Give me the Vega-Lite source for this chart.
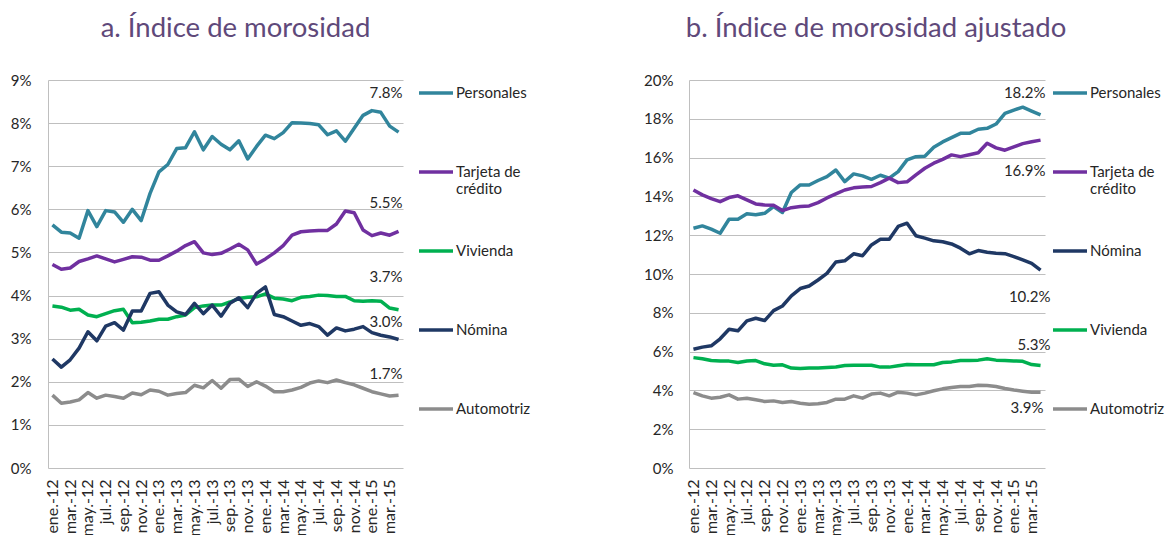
{
  "$schema": "https://vega.github.io/schema/vega-lite/v6.json",
  "background": "white",
  "padding": {"left": 10, "top": 14, "right": 0, "bottom": 0},
  "spacing": 112,
  "config": {
    "font": "Lato",
    "view": {"stroke": null},
    "title": {"fontSize": 27.5, "fontWeight": "normal", "color": "#5F497A", "offset": 31, "anchor": "middle", "frame": "group", "baseline": "top"},
    "axis": {"labelFontSize": 15, "labelColor": "#262626", "domainColor": "#BFBFBF", "gridColor": "#BFBFBF", "ticks": false, "tickSize": 0, "title": null},
    "legend": {"labelFontSize": 15, "labelColor": "#262626", "symbolType": "stroke", "symbolStrokeWidth": 3.5, "symbolSize": 1156, "labelOffset": 1, "rowPadding": 35, "gridAlign": "all", "title": null, "padding": 0},
    "text": {"fontSize": 15, "color": "#262626", "align": "right"}
  },
  "datasets": {
    "a": [
      {"m":"ene.-12","Personales":0.0564,"Tarjeta de crédito":0.0472,"Vivienda":0.0376,"Nómina":0.0253,"Automotriz":0.0169},
      {"m":"feb.-12","Personales":0.0547,"Tarjeta de crédito":0.0461,"Vivienda":0.0373,"Nómina":0.0234,"Automotriz":0.0150},
      {"m":"mar.-12","Personales":0.0545,"Tarjeta de crédito":0.0464,"Vivienda":0.0366,"Nómina":0.0251,"Automotriz":0.0153},
      {"m":"abr.-12","Personales":0.0533,"Tarjeta de crédito":0.0479,"Vivienda":0.0368,"Nómina":0.0278,"Automotriz":0.0158},
      {"m":"may.-12","Personales":0.0597,"Tarjeta de crédito":0.0485,"Vivienda":0.0355,"Nómina":0.0316,"Automotriz":0.0175},
      {"m":"jun.-12","Personales":0.0560,"Tarjeta de crédito":0.0492,"Vivienda":0.0351,"Nómina":0.0295,"Automotriz":0.0162},
      {"m":"jul.-12","Personales":0.0597,"Tarjeta de crédito":0.0485,"Vivienda":0.0358,"Nómina":0.0329,"Automotriz":0.0169},
      {"m":"ago.-12","Personales":0.0594,"Tarjeta de crédito":0.0478,"Vivienda":0.0365,"Nómina":0.0337,"Automotriz":0.0166},
      {"m":"sep.-12","Personales":0.0570,"Tarjeta de crédito":0.0484,"Vivienda":0.0368,"Nómina":0.0320,"Automotriz":0.0162},
      {"m":"oct.-12","Personales":0.0600,"Tarjeta de crédito":0.0490,"Vivienda":0.0337,"Nómina":0.0364,"Automotriz":0.0174},
      {"m":"nov.-12","Personales":0.0574,"Tarjeta de crédito":0.0489,"Vivienda":0.0338,"Nómina":0.0364,"Automotriz":0.0170},
      {"m":"dic.-12","Personales":0.0637,"Tarjeta de crédito":0.0482,"Vivienda":0.0341,"Nómina":0.0405,"Automotriz":0.0181},
      {"m":"ene.-13","Personales":0.0687,"Tarjeta de crédito":0.0482,"Vivienda":0.0345,"Nómina":0.0409,"Automotriz":0.0178},
      {"m":"feb.-13","Personales":0.0704,"Tarjeta de crédito":0.0492,"Vivienda":0.0345,"Nómina":0.0378,"Automotriz":0.0169},
      {"m":"mar.-13","Personales":0.0741,"Tarjeta de crédito":0.0503,"Vivienda":0.0351,"Nómina":0.0362,"Automotriz":0.0173},
      {"m":"abr.-13","Personales":0.0743,"Tarjeta de crédito":0.0516,"Vivienda":0.0355,"Nómina":0.0356,"Automotriz":0.0175},
      {"m":"may.-13","Personales":0.0780,"Tarjeta de crédito":0.0525,"Vivienda":0.0372,"Nómina":0.0382,"Automotriz":0.0192},
      {"m":"jun.-13","Personales":0.0738,"Tarjeta de crédito":0.0499,"Vivienda":0.0376,"Nómina":0.0358,"Automotriz":0.0186},
      {"m":"jul.-13","Personales":0.0769,"Tarjeta de crédito":0.0495,"Vivienda":0.0378,"Nómina":0.0378,"Automotriz":0.0203},
      {"m":"ago.-13","Personales":0.0751,"Tarjeta de crédito":0.0498,"Vivienda":0.0378,"Nómina":0.0352,"Automotriz":0.0185},
      {"m":"sep.-13","Personales":0.0738,"Tarjeta de crédito":0.0508,"Vivienda":0.0385,"Nómina":0.0382,"Automotriz":0.0205},
      {"m":"oct.-13","Personales":0.0759,"Tarjeta de crédito":0.0519,"Vivienda":0.0393,"Nómina":0.0395,"Automotriz":0.0206},
      {"m":"nov.-13","Personales":0.0717,"Tarjeta de crédito":0.0506,"Vivienda":0.0396,"Nómina":0.0372,"Automotriz":0.0189},
      {"m":"dic.-13","Personales":0.0746,"Tarjeta de crédito":0.0473,"Vivienda":0.0397,"Nómina":0.0405,"Automotriz":0.0200},
      {"m":"ene.-14","Personales":0.0772,"Tarjeta de crédito":0.0485,"Vivienda":0.0404,"Nómina":0.0420,"Automotriz":0.0190},
      {"m":"feb.-14","Personales":0.0764,"Tarjeta de crédito":0.0499,"Vivienda":0.0394,"Nómina":0.0356,"Automotriz":0.0177},
      {"m":"mar.-14","Personales":0.0778,"Tarjeta de crédito":0.0516,"Vivienda":0.0392,"Nómina":0.0351,"Automotriz":0.0177},
      {"m":"abr.-14","Personales":0.0801,"Tarjeta de crédito":0.0540,"Vivienda":0.0388,"Nómina":0.0341,"Automotriz":0.0181},
      {"m":"may.-14","Personales":0.0800,"Tarjeta de crédito":0.0548,"Vivienda":0.0396,"Nómina":0.0331,"Automotriz":0.0187},
      {"m":"jun.-14","Personales":0.0799,"Tarjeta de crédito":0.0550,"Vivienda":0.0398,"Nómina":0.0335,"Automotriz":0.0197},
      {"m":"jul.-14","Personales":0.0796,"Tarjeta de crédito":0.0551,"Vivienda":0.0401,"Nómina":0.0328,"Automotriz":0.0202},
      {"m":"ago.-14","Personales":0.0773,"Tarjeta de crédito":0.0551,"Vivienda":0.0400,"Nómina":0.0308,"Automotriz":0.0198},
      {"m":"sep.-14","Personales":0.0782,"Tarjeta de crédito":0.0566,"Vivienda":0.0398,"Nómina":0.0325,"Automotriz":0.0204},
      {"m":"oct.-14","Personales":0.0758,"Tarjeta de crédito":0.0596,"Vivienda":0.0398,"Nómina":0.0318,"Automotriz":0.0198},
      {"m":"nov.-14","Personales":0.0788,"Tarjeta de crédito":0.0592,"Vivienda":0.0388,"Nómina":0.0322,"Automotriz":0.0193},
      {"m":"dic.-14","Personales":0.0818,"Tarjeta de crédito":0.0552,"Vivienda":0.0387,"Nómina":0.0328,"Automotriz":0.0185},
      {"m":"ene.-15","Personales":0.0829,"Tarjeta de crédito":0.0539,"Vivienda":0.0388,"Nómina":0.0314,"Automotriz":0.0177},
      {"m":"feb.-15","Personales":0.0825,"Tarjeta de crédito":0.0545,"Vivienda":0.0387,"Nómina":0.0308,"Automotriz":0.0172},
      {"m":"mar.-15","Personales":0.0793,"Tarjeta de crédito":0.0540,"Vivienda":0.0371,"Nómina":0.0304,"Automotriz":0.0167},
      {"m":"abr.-15","Personales":0.0779,"Tarjeta de crédito":0.0549,"Vivienda":0.0367,"Nómina":0.0298,"Automotriz":0.0169}
    ],
    "b": [
      {"m":"ene.-12","Personales":0.1236,"Tarjeta de crédito":0.1433,"Nómina":0.0612,"Vivienda":0.0569,"Automotriz":0.0389},
      {"m":"feb.-12","Personales":0.1248,"Tarjeta de crédito":0.1408,"Nómina":0.0623,"Vivienda":0.0563,"Automotriz":0.0372},
      {"m":"mar.-12","Personales":0.1231,"Tarjeta de crédito":0.1389,"Nómina":0.0630,"Vivienda":0.0554,"Automotriz":0.0360},
      {"m":"abr.-12","Personales":0.1210,"Tarjeta de crédito":0.1373,"Nómina":0.0666,"Vivienda":0.0552,"Automotriz":0.0365},
      {"m":"may.-12","Personales":0.1282,"Tarjeta de crédito":0.1394,"Nómina":0.0715,"Vivienda":0.0551,"Automotriz":0.0377},
      {"m":"jun.-12","Personales":0.1282,"Tarjeta de crédito":0.1403,"Nómina":0.0707,"Vivienda":0.0544,"Automotriz":0.0355},
      {"m":"jul.-12","Personales":0.1310,"Tarjeta de crédito":0.1382,"Nómina":0.0758,"Vivienda":0.0552,"Automotriz":0.0360},
      {"m":"ago.-12","Personales":0.1305,"Tarjeta de crédito":0.1361,"Nómina":0.0772,"Vivienda":0.0554,"Automotriz":0.0352},
      {"m":"sep.-12","Personales":0.1313,"Tarjeta de crédito":0.1356,"Nómina":0.0760,"Vivienda":0.0537,"Automotriz":0.0343},
      {"m":"oct.-12","Personales":0.1348,"Tarjeta de crédito":0.1354,"Nómina":0.0811,"Vivienda":0.0530,"Automotriz":0.0346},
      {"m":"nov.-12","Personales":0.1317,"Tarjeta de crédito":0.1327,"Nómina":0.0835,"Vivienda":0.0532,"Automotriz":0.0338},
      {"m":"dic.-12","Personales":0.1420,"Tarjeta de crédito":0.1342,"Nómina":0.0887,"Vivienda":0.0515,"Automotriz":0.0343},
      {"m":"ene.-13","Personales":0.1459,"Tarjeta de crédito":0.1348,"Nómina":0.0925,"Vivienda":0.0513,"Automotriz":0.0334},
      {"m":"feb.-13","Personales":0.1459,"Tarjeta de crédito":0.1351,"Nómina":0.0938,"Vivienda":0.0515,"Automotriz":0.0329},
      {"m":"mar.-13","Personales":0.1482,"Tarjeta de crédito":0.1368,"Nómina":0.0969,"Vivienda":0.0516,"Automotriz":0.0331},
      {"m":"abr.-13","Personales":0.1502,"Tarjeta de crédito":0.1392,"Nómina":0.1003,"Vivienda":0.0518,"Automotriz":0.0338},
      {"m":"may.-13","Personales":0.1536,"Tarjeta de crédito":0.1413,"Nómina":0.1062,"Vivienda":0.0521,"Automotriz":0.0355},
      {"m":"jun.-13","Personales":0.1476,"Tarjeta de crédito":0.1433,"Nómina":0.1068,"Vivienda":0.0528,"Automotriz":0.0355},
      {"m":"jul.-13","Personales":0.1516,"Tarjeta de crédito":0.1444,"Nómina":0.1104,"Vivienda":0.0530,"Automotriz":0.0372},
      {"m":"ago.-13","Personales":0.1506,"Tarjeta de crédito":0.1449,"Nómina":0.1094,"Vivienda":0.0530,"Automotriz":0.0360},
      {"m":"sep.-13","Personales":0.1488,"Tarjeta de crédito":0.1451,"Nómina":0.1150,"Vivienda":0.0530,"Automotriz":0.0381},
      {"m":"oct.-13","Personales":0.1509,"Tarjeta de crédito":0.1471,"Nómina":0.1179,"Vivienda":0.0520,"Automotriz":0.0386},
      {"m":"nov.-13","Personales":0.1494,"Tarjeta de crédito":0.1494,"Nómina":0.1179,"Vivienda":0.0520,"Automotriz":0.0372},
      {"m":"dic.-13","Personales":0.1528,"Tarjeta de crédito":0.1471,"Nómina":0.1245,"Vivienda":0.0527,"Automotriz":0.0391},
      {"m":"ene.-14","Personales":0.1588,"Tarjeta de crédito":0.1475,"Nómina":0.1262,"Vivienda":0.0533,"Automotriz":0.0386},
      {"m":"feb.-14","Personales":0.1605,"Tarjeta de crédito":0.1511,"Nómina":0.1197,"Vivienda":0.0532,"Automotriz":0.0377},
      {"m":"mar.-14","Personales":0.1607,"Tarjeta de crédito":0.1545,"Nómina":0.1185,"Vivienda":0.0532,"Automotriz":0.0386},
      {"m":"abr.-14","Personales":0.1653,"Tarjeta de crédito":0.1571,"Nómina":0.1171,"Vivienda":0.0532,"Automotriz":0.0398},
      {"m":"may.-14","Personales":0.1681,"Tarjeta de crédito":0.1591,"Nómina":0.1166,"Vivienda":0.0544,"Automotriz":0.0408},
      {"m":"jun.-14","Personales":0.1703,"Tarjeta de crédito":0.1614,"Nómina":0.1155,"Vivienda":0.0547,"Automotriz":0.0415},
      {"m":"jul.-14","Personales":0.1725,"Tarjeta de crédito":0.1605,"Nómina":0.1133,"Vivienda":0.0554,"Automotriz":0.0420},
      {"m":"ago.-14","Personales":0.1725,"Tarjeta de crédito":0.1615,"Nómina":0.1104,"Vivienda":0.0554,"Automotriz":0.0420},
      {"m":"sep.-14","Personales":0.1746,"Tarjeta de crédito":0.1625,"Nómina":0.1121,"Vivienda":0.0556,"Automotriz":0.0427},
      {"m":"oct.-14","Personales":0.1751,"Tarjeta de crédito":0.1674,"Nómina":0.1112,"Vivienda":0.0563,"Automotriz":0.0425},
      {"m":"nov.-14","Personales":0.1773,"Tarjeta de crédito":0.1650,"Nómina":0.1107,"Vivienda":0.0556,"Automotriz":0.0420},
      {"m":"dic.-14","Personales":0.1828,"Tarjeta de crédito":0.1638,"Nómina":0.1105,"Vivienda":0.0554,"Automotriz":0.0410},
      {"m":"ene.-15","Personales":0.1845,"Tarjeta de crédito":0.1655,"Nómina":0.1090,"Vivienda":0.0552,"Automotriz":0.0402},
      {"m":"feb.-15","Personales":0.1860,"Tarjeta de crédito":0.1672,"Nómina":0.1073,"Vivienda":0.0550,"Automotriz":0.0396},
      {"m":"mar.-15","Personales":0.1840,"Tarjeta de crédito":0.1682,"Nómina":0.1055,"Vivienda":0.0533,"Automotriz":0.0391},
      {"m":"abr.-15","Personales":0.1820,"Tarjeta de crédito":0.1690,"Nómina":0.1020,"Vivienda":0.0528,"Automotriz":0.0390}
    ]
  },
  "hconcat": [
    {
      "title": {"text": "a. Índice de morosidad", "dx": 10},
      "width": 355,
      "height": 388,
      "data": {"name": "a"},
      "transform": [{"fold": ["Personales", "Tarjeta de crédito", "Vivienda", "Nómina", "Automotriz"], "as": ["s", "v"]}],
      "encoding": {
        "x": {"field": "m", "type": "ordinal", "sort": null, "scale": {"type": "point", "padding": 0.5},
          "axis": {"labelAngle": -90, "labelPadding": 11, "labelFontSize": 16, "grid": false, "domain": false,
            "values": ["ene.-12","mar.-12","may.-12","jul.-12","sep.-12","nov.-12","ene.-13","mar.-13","may.-13","jul.-13","sep.-13","nov.-13","ene.-14","mar.-14","may.-14","jul.-14","sep.-14","nov.-14","ene.-15","mar.-15"]}},
        "y": {"field": "v", "type": "quantitative", "scale": {"domain": [0, 0.09], "nice": false},
          "axis": {"format": ".0%", "values": [0, 0.01, 0.02, 0.03, 0.04, 0.05, 0.06, 0.07, 0.08, 0.09], "labelPadding": 17}}
      },
      "layer": [
        {"mark": {"type": "line", "strokeWidth": 3.5, "strokeJoin": "round"},
          "encoding": {"color": {"field": "s", "type": "nominal",
            "scale": {"domain": ["Personales", "Tarjeta de crédito", "Vivienda", "Nómina", "Automotriz"], "range": ["#31859C", "#7030A0", "#00B050", "#1F3864", "#8C8C8C"]},
            "legend": {"orient": "none", "legendX": 369, "legendY": -6, "labelExpr": "datum.label == 'Tarjeta de crédito' ? ['Tarjeta de', 'crédito'] : datum.label"}}}},
        {"transform": [{"filter": "datum.m == 'abr.-15' && datum.s == 'Personales'"}], "mark": {"type": "text", "dy": -39, "dx": 4}, "encoding": {"text": {"field": "v", "format": ".1%"}}},
        {"transform": [{"filter": "datum.m == 'abr.-15' && datum.s == 'Tarjeta de crédito'"}], "mark": {"type": "text", "dy": -28, "dx": 4}, "encoding": {"text": {"field": "v", "format": ".1%"}}},
        {"transform": [{"filter": "datum.m == 'abr.-15' && datum.s == 'Vivienda'"}], "mark": {"type": "text", "dy": -33, "dx": 4}, "encoding": {"text": {"field": "v", "format": ".1%"}}},
        {"transform": [{"filter": "datum.m == 'abr.-15' && datum.s == 'Nómina'"}], "mark": {"type": "text", "dy": -18, "dx": 4}, "encoding": {"text": {"field": "v", "format": ".1%"}}},
        {"transform": [{"filter": "datum.m == 'abr.-15' && datum.s == 'Automotriz'"}], "mark": {"type": "text", "dy": -21, "dx": 4}, "encoding": {"text": {"field": "v", "format": ".1%"}}}
      ]
    },
    {
      "title": {"text": "b. Índice de morosidad ajustado", "dx": 9},
      "width": 356,
      "height": 388,
      "data": {"name": "b"},
      "transform": [{"fold": ["Personales", "Tarjeta de crédito", "Nómina", "Vivienda", "Automotriz"], "as": ["s", "v"]}],
      "encoding": {
        "x": {"field": "m", "type": "ordinal", "sort": null, "scale": {"type": "point", "padding": 0.5},
          "axis": {"labelAngle": -90, "labelPadding": 11, "labelFontSize": 16, "grid": false, "domain": false,
            "values": ["ene.-12","mar.-12","may.-12","jul.-12","sep.-12","nov.-12","ene.-13","mar.-13","may.-13","jul.-13","sep.-13","nov.-13","ene.-14","mar.-14","may.-14","jul.-14","sep.-14","nov.-14","ene.-15","mar.-15"]}},
        "y": {"field": "v", "type": "quantitative", "scale": {"domain": [0, 0.2], "nice": false},
          "axis": {"format": ".0%", "values": [0, 0.02, 0.04, 0.06, 0.08, 0.1, 0.12, 0.14, 0.16, 0.18, 0.2], "labelPadding": 16}}
      },
      "layer": [
        {"mark": {"type": "line", "strokeWidth": 3.5, "strokeJoin": "round"},
          "encoding": {"color": {"field": "s", "type": "nominal",
            "scale": {"domain": ["Personales", "Tarjeta de crédito", "Nómina", "Vivienda", "Automotriz"], "range": ["#31859C", "#7030A0", "#1F3864", "#00B050", "#8C8C8C"]},
            "legend": {"orient": "none", "legendX": 362, "legendY": -6, "labelExpr": "datum.label == 'Tarjeta de crédito' ? ['Tarjeta de', 'crédito'] : datum.label"}}}},
        {"transform": [{"filter": "datum.m == 'abr.-15' && datum.s == 'Personales'"}], "mark": {"type": "text", "dy": -22, "dx": 5}, "encoding": {"text": {"field": "v", "format": ".1%"}}},
        {"transform": [{"filter": "datum.m == 'abr.-15' && datum.s == 'Tarjeta de crédito'"}], "mark": {"type": "text", "dy": 31, "dx": 5}, "encoding": {"text": {"field": "v", "format": ".1%"}}},
        {"transform": [{"filter": "datum.m == 'abr.-15' && datum.s == 'Nómina'"}], "mark": {"type": "text", "dy": 27, "dx": 10}, "encoding": {"text": {"field": "v", "format": ".1%"}}},
        {"transform": [{"filter": "datum.m == 'abr.-15' && datum.s == 'Vivienda'"}], "mark": {"type": "text", "dy": -21, "dx": 10}, "encoding": {"text": {"field": "v", "format": ".1%"}}},
        {"transform": [{"filter": "datum.m == 'abr.-15' && datum.s == 'Automotriz'"}], "mark": {"type": "text", "dy": 16, "dx": 3}, "encoding": {"text": {"field": "v", "format": ".1%"}}}
      ]
    }
  ],
  "resolve": {"scale": {"color": "independent", "x": "independent", "y": "independent"}, "legend": {"color": "independent"}}
}
